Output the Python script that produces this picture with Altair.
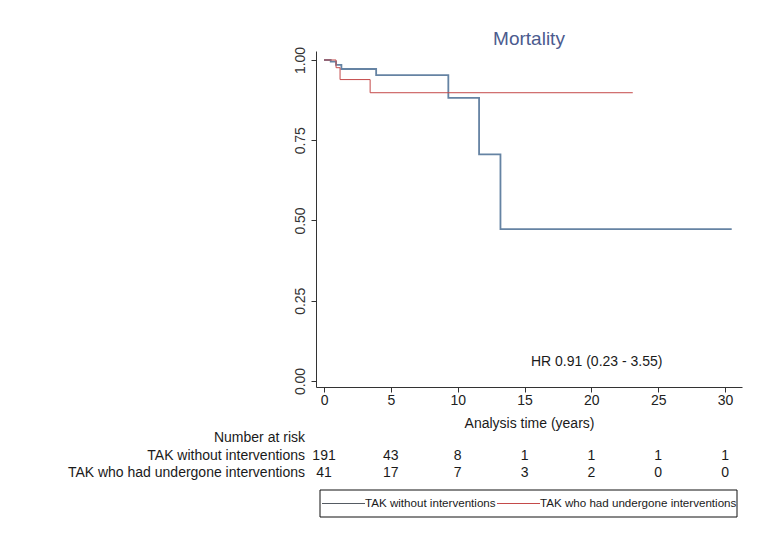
import altair as alt
import pandas as pd

# Kaplan-Meier step points
group_names = ["TAK without interventions", "TAK who had undergone interventions"]
t_a = [0, 0.5, 0.9, 1.3, 3.9, 9.3, 11.6, 13.2, 30.5]
s_a = [1.0, 0.995, 0.985, 0.972, 0.953, 0.882, 0.706, 0.473, 0.473]
t_b = [0, 0.9, 1.2, 3.45, 23.1]
s_b = [1.0, 0.976, 0.939, 0.898, 0.898]

# Number at risk table
risk_times = [0, 5, 10, 15, 20, 25, 30]
risk_a = [191, 43, 8, 1, 1, 1, 1]
risk_b = [41, 17, 7, 3, 2, 0, 0]

x_ticks = [0, 5, 10, 15, 20, 25, 30]
y_ticks = [0, 0.25, 0.5, 0.75, 1.0]

hr_text = ["HR 0.91 (0.23 - 3.55)"]
hr_pos_t = [20.4]
hr_pos_s = [0.059]

FONT = "Liberation Sans"
col_a = "#6583a3"
col_b = "#c44a4a"
TXT = "#1a1a1a"

df_a = pd.DataFrame({"t": t_a, "s": s_a})
df_b = pd.DataFrame({"t": t_b, "s": s_b})
df_risk_a = pd.DataFrame({"t": risk_times, "n": risk_a})
df_risk_b = pd.DataFrame({"t": risk_times, "n": risk_b})
df_hr = pd.DataFrame({"t": hr_pos_t, "s": hr_pos_s, "label": hr_text})
row_labels = ["Number at risk", group_names[0], group_names[1]]

xscale = alt.Scale(domain=[-0.6, 31.27], nice=False, zero=False)
yscale = alt.Scale(domain=[-0.0187, 1.028], nice=False, zero=False)

xenc = alt.X("t:Q", scale=xscale,
             axis=alt.Axis(values=x_ticks, title="Analysis time (years)", format="d",
                           labelFontSize=14, tickSize=5, labelPadding=1,
                           titleFontSize=14, titleFontWeight="normal", titlePadding=9,
                           titleColor=TXT, labelColor="#222"))
yenc = alt.Y("s:Q", scale=yscale,
             axis=alt.Axis(values=y_ticks, title="", format=".2f", labelAngle=270,
                           labelFontSize=14, tickSize=5, labelPadding=4,
                           labelColor="#333"))

line_a = alt.Chart(df_a).mark_line(interpolate="step-after", strokeWidth=1.8,
                                   color=col_a).encode(x=xenc, y=yenc)
line_b = alt.Chart(df_b).mark_line(interpolate="step-after", strokeWidth=1,
                                   color=col_b).encode(
    x=alt.X("t:Q", scale=xscale), y=alt.Y("s:Q", scale=yscale))

hr = alt.Chart(df_hr).mark_text(font=FONT, fontSize=14, color=TXT, align="center",
                                baseline="middle").encode(
    x=alt.X("t:Q", scale=xscale), y=alt.Y("s:Q", scale=yscale), text="label:N"
)

row_y = [387, 405, 422]
rowlabels = alt.layer(*[
    alt.Chart(pd.DataFrame({"label": [row_labels[i]]})).mark_text(
        font=FONT, fontSize=14, color=TXT, align="right", baseline="middle"
    ).encode(x=alt.value(-11), y=alt.value(row_y[i]), text="label:N")
    for i in range(3)
])

risk1 = alt.Chart(df_risk_a).mark_text(font=FONT, fontSize=14, color=TXT,
                                        align="center", baseline="middle").encode(
    x=alt.X("t:Q", scale=xscale), y=alt.value(row_y[1]), text="n:Q")
risk2 = alt.Chart(df_risk_b).mark_text(font=FONT, fontSize=14, color=TXT,
                                        align="center", baseline="middle").encode(
    x=alt.X("t:Q", scale=xscale), y=alt.value(row_y[2]), text="n:Q")

# Legend box drawn by hand (Stata style)
leg_box = alt.Chart(pd.DataFrame({"k": [0]})).mark_rect(
    fill="white", stroke="#111", strokeWidth=1).encode(
    x=alt.value(4), x2=alt.value(421), y=alt.value(439), y2=alt.value(466))
leg_line1 = alt.Chart(pd.DataFrame({"k": [1]})).mark_rule(
    color="#555b63", strokeWidth=1).encode(
    x=alt.value(6), x2=alt.value(49), y=alt.value(452.5))
leg_line2 = alt.Chart(pd.DataFrame({"k": [2]})).mark_rule(
    color=col_b, strokeWidth=1).encode(
    x=alt.value(181), x2=alt.value(224), y=alt.value(452.5))
leg_txt1 = alt.Chart(pd.DataFrame({"label": [group_names[0]]})).mark_text(
    font=FONT, fontSize=11.6, color=TXT, align="left", baseline="middle").encode(
    x=alt.value(49), y=alt.value(452.5), text="label:N")
leg_txt2 = alt.Chart(pd.DataFrame({"label": [group_names[1]]})).mark_text(
    font=FONT, fontSize=11.6, color=TXT, align="left", baseline="middle").encode(
    x=alt.value(224), y=alt.value(452.5), text="label:N")

chart = alt.layer(line_a, line_b, hr, rowlabels, risk1, risk2,
                  leg_box, leg_line1, leg_line2, leg_txt1, leg_txt2).properties(
    width=426, height=336,
    autosize=alt.AutoSizeParams(type="none"),
    padding={"left": 308, "top": 43, "right": 20, "bottom": 138},
    background="white",
    title=alt.TitleParams("Mortality", fontSize=19, font=FONT, fontWeight="normal",
                          color="#4b5b8e", offset=-3, anchor="middle"),
).configure_view(strokeWidth=0, fill="white").configure_axis(
    grid=False, domainColor="#333", tickColor="#333", labelFont=FONT, titleFont=FONT
)

chart.save("out.html", embed_options={"renderer": "svg", "actions": False})
